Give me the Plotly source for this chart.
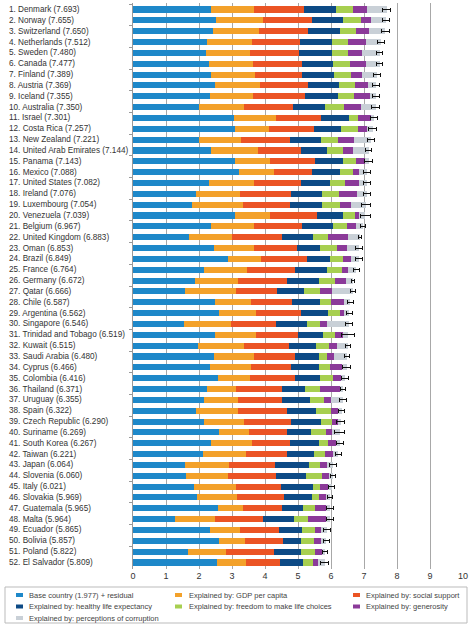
import plotly.graph_objects as go

countries = ["Denmark", "Norway", "Switzerland", "Netherlands", "Sweden", "Canada", "Finland", "Austria",
             "Iceland", "Australia", "Israel", "Costa Rica", "New Zealand", "United Arab Emirates", "Panama",
             "Mexico", "United States", "Ireland", "Luxembourg", "Venezuela", "Belgium", "United Kingdom",
             "Oman", "Brazil", "France", "Germany", "Qatar", "Chile", "Argentina", "Singapore",
             "Trinidad and Tobago", "Kuwait", "Saudi Arabia", "Cyprus", "Colombia", "Thailand", "Uruguay",
             "Spain", "Czech Republic", "Suriname", "South Korea", "Taiwan", "Japan", "Slovenia", "Italy",
             "Slovakia", "Guatemala", "Malta", "Ecuador", "Bolivia", "Poland", "El Salvador"]
scores = [7.693, 7.655, 7.650, 7.512, 7.480, 7.477, 7.389, 7.369, 7.355, 7.350, 7.301, 7.257, 7.221,
          7.144, 7.143, 7.088, 7.082, 7.076, 7.054, 7.039, 6.967, 6.883, 6.853, 6.849, 6.764, 6.672,
          6.666, 6.587, 6.562, 6.546, 6.519, 6.515, 6.480, 6.466, 6.416, 6.371, 6.355, 6.322, 6.290,
          6.269, 6.267, 6.221, 6.064, 6.060, 6.021, 5.969, 5.965, 5.964, 5.865, 5.857, 5.822, 5.809]

base_residual = [2.36, 2.50, 2.43, 2.25, 2.21, 2.29, 2.37, 2.48, 2.32, 2.01, 3.07, 3.10, 2.01, 2.35, 3.10,
                 3.20, 2.29, 1.91, 1.80, 3.10, 2.36, 1.69, 2.46, 2.88, 2.15, 1.87, 1.59, 2.48, 2.61, 1.56,
                 2.48, 1.98, 2.46, 2.32, 2.58, 2.25, 2.16, 1.91, 2.14, 2.61, 2.35, 2.12, 1.58, 1.61, 1.86,
                 1.93, 2.58, 1.26, 2.32, 2.61, 1.67, 2.56]
gdp = [1.30, 1.43, 1.38, 1.35, 1.34, 1.36, 1.32, 1.36, 1.33, 1.34, 1.25, 1.02, 1.26, 1.43, 1.06,
       1.07, 1.39, 1.32, 1.52, 1.04, 1.32, 1.32, 1.22, 1.01, 1.30, 1.31, 1.54, 1.09, 1.11, 1.42,
       1.24, 1.39, 1.20, 1.27, 0.97, 0.88, 1.03, 1.28, 1.21, 0.91, 1.27, 1.29, 1.32, 1.26, 1.26,
       1.22, 0.75, 1.23, 0.91, 0.78, 1.15, 0.85]
social = [1.53, 1.49, 1.48, 1.47, 1.48, 1.48, 1.44, 1.46, 1.55, 1.51, 1.38, 1.36, 1.49, 1.32, 1.37,
          1.15, 1.42, 1.57, 1.45, 1.45, 1.44, 1.49, 1.28, 1.37, 1.46, 1.48, 1.24, 1.24, 1.38, 1.34,
          1.28, 1.36, 1.25, 1.19, 1.36, 1.38, 1.34, 1.48, 1.45, 1.16, 1.13, 1.25, 1.40, 1.45, 1.35,
          1.42, 1.18, 1.44, 1.18, 1.15, 1.46, 1.04]
health = [0.95, 0.95, 0.97, 0.95, 0.99, 0.94, 0.97, 0.94, 1.00, 0.97, 0.85, 0.83, 0.93, 0.78, 0.84,
          0.84, 0.88, 0.94, 0.97, 0.78, 0.95, 0.95, 0.70, 0.70, 0.97, 0.97, 0.80, 0.86, 0.81, 0.94,
          0.75, 0.83, 0.73, 0.87, 0.76, 0.70, 0.83, 0.87, 0.89, 0.71, 0.90, 0.82, 1.02, 0.92, 0.97,
          0.84, 0.64, 0.95, 0.71, 0.56, 0.82, 0.70]
freedom = [0.52, 0.54, 0.51, 0.51, 0.51, 0.51, 0.52, 0.48, 0.50, 0.55, 0.27, 0.52, 0.52, 0.48, 0.38,
           0.40, 0.43, 0.49, 0.52, 0.37, 0.41, 0.46, 0.52, 0.40, 0.44, 0.48, 0.51, 0.34, 0.35, 0.42,
           0.37, 0.37, 0.24, 0.33, 0.38, 0.46, 0.44, 0.45, 0.35, 0.46, 0.26, 0.33, 0.36, 0.49, 0.23,
           0.24, 0.36, 0.43, 0.38, 0.38, 0.40, 0.30]
generosity = [0.42, 0.31, 0.38, 0.52, 0.40, 0.48, 0.32, 0.40, 0.48, 0.53, 0.38, 0.27, 0.48, 0.32, 0.28,
              0.19, 0.44, 0.56, 0.36, 0.11, 0.29, 0.60, 0.30, 0.26, 0.18, 0.34, 0.35, 0.39, 0.14, 0.19,
              0.23, 0.24, 0.21, 0.35, 0.25, 0.61, 0.20, 0.21, 0.19, 0.17, 0.24, 0.26, 0.20, 0.22, 0.23,
              0.20, 0.34, 0.54, 0.20, 0.23, 0.23, 0.16]
corruption = [0.61, 0.44, 0.50, 0.46, 0.55, 0.42, 0.45, 0.25, 0.18, 0.44, 0.10, 0.16, 0.53, 0.46, 0.11,
              0.24, 0.23, 0.29, 0.43, 0.19, 0.20, 0.37, 0.37, 0.23, 0.26, 0.22, 0.64, 0.19, 0.16, 0.68,
              0.17, 0.35, 0.39, 0.14, 0.12, 0.09, 0.36, 0.12, 0.06, 0.25, 0.12, 0.15, 0.18, 0.11, 0.12,
              0.12, 0.12, 0.11, 0.17, 0.15, 0.09, 0.20]
ci_half = [0.12, 0.10, 0.11, 0.10, 0.09, 0.09, 0.11, 0.11, 0.11, 0.11, 0.10, 0.11, 0.11, 0.10, 0.11,
           0.10, 0.11, 0.11, 0.14, 0.15, 0.09, 0.04, 0.10, 0.11, 0.09, 0.05, 0.07, 0.08, 0.08, 0.10,
           0.20, 0.07, 0.08, 0.11, 0.10, 0.08, 0.11, 0.10, 0.11, 0.15, 0.10, 0.09, 0.10, 0.09, 0.10,
           0.09, 0.11, 0.11, 0.10, 0.08, 0.08, 0.12]

series_names = ["Base country (1.977) + residual", "Explained by: GDP per capita",
                "Explained by: social support", "Explained by: healthy life expectancy",
                "Explained by: freedom to make life choices", "Explained by: generosity",
                "Explained by: perceptions of corruption"]
series_values = [base_residual, gdp, social, health, freedom, generosity, corruption]
colors = ["#1E88C9", "#F3A12A", "#EB5424", "#0D4A85", "#A7CF50", "#8B3A99", "#C9D0D7"]
x_ticks = list(range(0, 11))

labels = [f"{i + 1}. {c} ({s:.3f})" for i, (c, s) in enumerate(zip(countries, scores))]

fig = go.Figure()
for k, (name, vals, col) in enumerate(zip(series_names, series_values, colors)):
    kw = {}
    if k == len(series_names) - 1:
        kw["error_x"] = dict(type="data", array=ci_half, symmetric=True, color="#111111",
                             thickness=1, width=2)
    fig.add_trace(go.Bar(y=labels, x=vals, orientation="h", name=name,
                         marker=dict(color=col, line=dict(width=0)), **kw))

# plot area in pixels
L, R, T, B = 133, 11, 3, 56
W, H = 474, 625
pw, ph = W - L - R, H - T - B


def px(x):
    return (x - L) / pw


def py(y):
    return (H - B - y) / ph


annotations = []
for lab in labels:
    annotations.append(dict(text=lab, x=px(7), xref="paper", xanchor="left", y=lab, yref="y",
                            showarrow=False, font=dict(size=8.2, color="#333333")))

shapes = [dict(type="rect", xref="paper", yref="paper", x0=px(5), x1=px(467), y0=py(623), y1=py(587),
               line=dict(color="#BBBBBB", width=1), fillcolor="rgba(0,0,0,0)")]
col_marker = [16, 175, 353]
col_text = [27, 187, 364]
row_y = [595, 606.5, 618]
for k, (name, col) in enumerate(zip(series_names, colors)):
    r, c = divmod(k, 3)
    yy = row_y[r]
    shapes.append(dict(type="rect", xref="paper", yref="paper", x0=px(col_marker[c]),
                       x1=px(col_marker[c] + 7), y0=py(yy + 2), y1=py(yy - 2),
                       line=dict(width=0), fillcolor=col))
    annotations.append(dict(text=name, x=px(col_text[c]), xref="paper", xanchor="left",
                            y=py(yy), yref="paper", yanchor="middle", showarrow=False,
                            font=dict(size=7.5, color="#444444")))

fig.update_layout(
    width=W, height=H,
    margin=dict(l=L, r=R, t=T, b=B, pad=0),
    barmode="stack", bargap=0.44,
    paper_bgcolor="white", plot_bgcolor="white",
    showlegend=False,
    font=dict(family="Liberation Sans, Arial, sans-serif", color="#333333"),
    xaxis=dict(range=[0, 10], tickvals=x_ticks, ticktext=[str(t) for t in x_ticks],
               showgrid=True, gridcolor="#A8A8A8", gridwidth=1, zeroline=False,
               showline=False, ticks="", tickfont=dict(size=9, color="#333333"), fixedrange=True),
    yaxis=dict(type="category", autorange="reversed", showticklabels=False, ticks="outside",
               ticklen=3, tickcolor="#999999", tickson="boundaries", showline=True,
               linecolor="#999999", linewidth=1, showgrid=False, zeroline=False),
    annotations=annotations,
    shapes=shapes,
)

fig.write_html("out.html",
               config={"displayModeBar": False},
               post_script="document.body.style.margin='0';document.body.style.padding='0';"
                           "document.body.style.overflow='hidden';")
